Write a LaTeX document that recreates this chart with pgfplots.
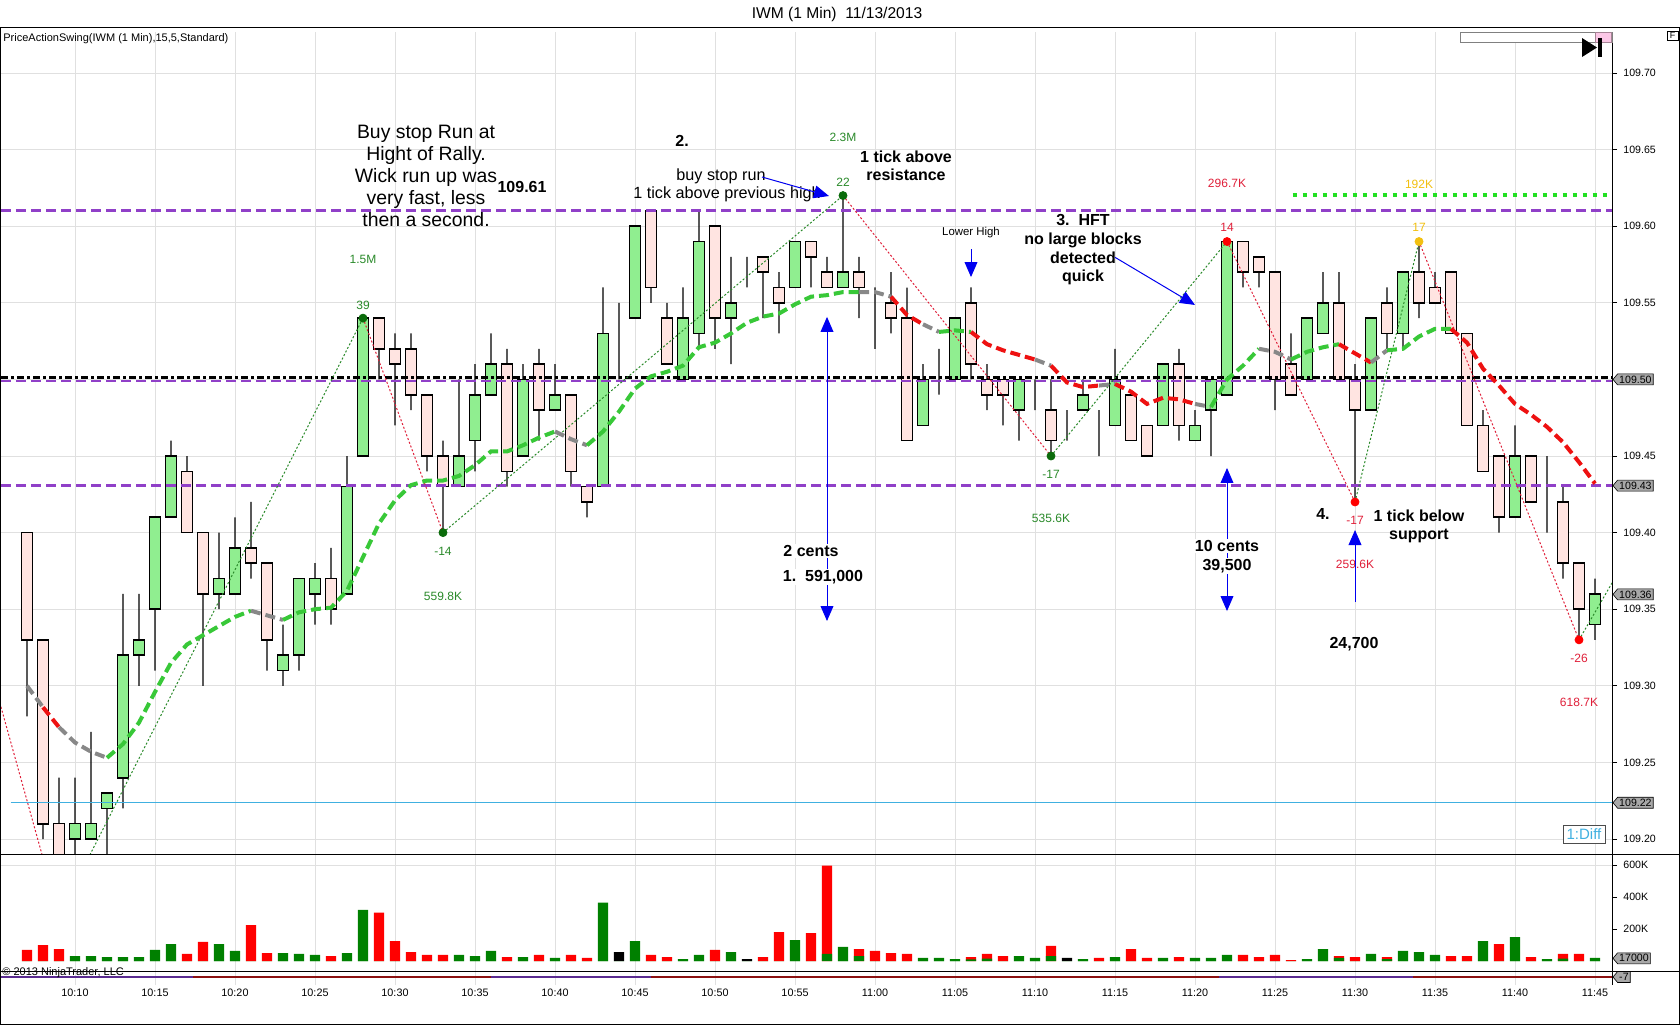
\documentclass[border=0pt]{standalone}
\usepackage{fontspec}
\setmainfont{Liberation Sans}
\usepackage{pgfplots}
\pgfplotsset{compat=1.18}
\usepackage{pgfplotstable}
\usetikzlibrary{shapes.symbols,arrows.meta}

\definecolor{cup}{HTML}{90EE90}
\definecolor{cdn}{HTML}{FFE4E1}
\definecolor{vg}{HTML}{008000}
\definecolor{vr}{HTML}{FF0000}
\definecolor{mag}{HTML}{38C838}
\definecolor{mar}{HTML}{EE1111}
\definecolor{may}{HTML}{888888}
\definecolor{lvl}{HTML}{9040C8}
\definecolor{gridc}{HTML}{E0E0E0}
\definecolor{swg}{HTML}{2A8A2A}
\definecolor{swr}{HTML}{E0203A}
\definecolor{dotg}{HTML}{0B6B0B}
\definecolor{gold}{HTML}{F2C010}
\definecolor{lblue}{HTML}{40B0E0}
\definecolor{brg}{HTML}{22E022}
\definecolor{tagg}{HTML}{A8A8A8}
\definecolor{arr}{HTML}{0000F0}
\definecolor{dred}{HTML}{8B1010}
\definecolor{dpur}{HTML}{5A2A90}

\newcommand\tk{\fontsize{5.3pt}{6pt}\selectfont}
\newcommand\sw{\fontsize{6pt}{7pt}\selectfont}
\newcommand\ann{\fontsize{8pt}{9.2pt}\selectfont\bfseries}
\newcommand\annr{\fontsize{8.1pt}{9.2pt}\selectfont}
\newcommand\bigann{\fontsize{9.7pt}{11pt}\selectfont}

\tikzset{tag/.style={signal, signal to=west, signal pointer angle=100, draw=black, line width=0.3pt, fill=tagg, font=\tk, inner xsep=0.8pt, inner ysep=0.4pt, minimum height=5.5pt, anchor=west, xshift=0.3pt},
  myarr/.style={arr, line width=0.5pt, >={Triangle[width=6.4pt,length=7.5pt]}}}

\pgfplotsset{
  pp/.style={scale only axis, width=805.5pt, height=411pt, at={(0.5pt,-427pt)}, anchor=south west,
    xmin=5.375, xmax=106.0625, ymin=19.021, ymax=72.676},
  px/.style={scale only axis, width=805.5pt, anchor=south west, xmin=5.375, xmax=106.0625},
  maline/.style={line width=2pt, dash pattern=on 5pt off 2.5pt},
  swline/.style={line width=0.5pt, dash pattern=on 1pt off 1pt},
}

\pgfplotstableread{
t o h l c
7 109.40 109.40 109.28 109.33
8 109.33 109.33 109.20 109.21
9 109.21 109.24 109.15 109.17
10 109.20 109.24 109.19 109.21
11 109.20 109.27 109.20 109.21
12 109.22 109.23 109.19 109.23
13 109.24 109.36 109.22 109.32
14 109.32 109.36 109.30 109.33
15 109.35 109.41 109.31 109.41
16 109.41 109.46 109.41 109.45
17 109.44 109.45 109.40 109.40
18 109.40 109.40 109.30 109.36
19 109.36 109.40 109.35 109.37
20 109.36 109.41 109.36 109.39
21 109.39 109.42 109.37 109.38
22 109.38 109.38 109.31 109.33
23 109.31 109.34 109.30 109.32
24 109.32 109.37 109.31 109.37
25 109.36 109.38 109.34 109.37
26 109.37 109.39 109.34 109.35
27 109.36 109.45 109.36 109.43
28 109.45 109.54 109.45 109.54
29 109.54 109.54 109.50 109.52
30 109.52 109.53 109.47 109.51
31 109.52 109.53 109.48 109.49
32 109.49 109.49 109.44 109.45
33 109.45 109.46 109.40 109.43
34 109.43 109.50 109.43 109.45
35 109.46 109.51 109.44 109.49
36 109.49 109.53 109.49 109.51
37 109.51 109.52 109.43 109.44
38 109.45 109.51 109.45 109.50
39 109.51 109.52 109.46 109.48
40 109.48 109.51 109.48 109.49
41 109.49 109.49 109.43 109.44
42 109.43 109.43 109.41 109.42
43 109.43 109.56 109.43 109.53
44 109.53 109.55 109.50 109.53
45 109.54 109.60 109.54 109.60
46 109.61 109.61 109.55 109.56
47 109.54 109.55 109.51 109.51
48 109.50 109.56 109.50 109.54
49 109.53 109.61 109.52 109.59
50 109.60 109.60 109.52 109.54
51 109.54 109.58 109.51 109.55
52 109.58 109.58 109.56 109.58
53 109.58 109.58 109.54 109.57
54 109.56 109.57 109.53 109.55
55 109.56 109.59 109.56 109.59
56 109.59 109.59 109.56 109.58
57 109.57 109.58 109.56 109.56
58 109.56 109.62 109.56 109.57
59 109.57 109.58 109.54 109.56
60 109.55 109.56 109.52 109.55
61 109.55 109.57 109.53 109.54
62 109.54 109.56 109.46 109.46
63 109.47 109.51 109.47 109.50
64 109.50 109.52 109.49 109.50
65 109.50 109.54 109.50 109.54
66 109.55 109.56 109.50 109.51
67 109.50 109.51 109.48 109.49
68 109.50 109.50 109.47 109.49
69 109.48 109.50 109.46 109.50
70 109.48 109.50 109.48 109.48
71 109.48 109.50 109.45 109.46
72 109.46 109.48 109.46 109.46
73 109.48 109.50 109.48 109.49
74 109.48 109.48 109.45 109.48
75 109.47 109.52 109.47 109.50
76 109.49 109.49 109.46 109.46
77 109.47 109.47 109.45 109.45
78 109.47 109.51 109.47 109.51
79 109.51 109.52 109.46 109.47
80 109.46 109.48 109.46 109.47
81 109.48 109.50 109.45 109.50
82 109.49 109.59 109.49 109.59
83 109.59 109.59 109.56 109.57
84 109.58 109.58 109.56 109.57
85 109.57 109.57 109.48 109.50
86 109.51 109.53 109.49 109.49
87 109.50 109.54 109.50 109.54
88 109.53 109.57 109.53 109.55
89 109.55 109.57 109.50 109.50
90 109.50 109.51 109.42 109.48
91 109.48 109.54 109.48 109.54
92 109.55 109.56 109.52 109.53
93 109.53 109.57 109.52 109.57
94 109.57 109.59 109.54 109.55
95 109.56 109.57 109.55 109.55
96 109.57 109.57 109.53 109.53
97 109.53 109.53 109.47 109.47
98 109.47 109.48 109.44 109.44
99 109.45 109.45 109.40 109.41
100 109.41 109.47 109.41 109.45
101 109.45 109.45 109.42 109.42
102 109.42 109.45 109.40 109.42
103 109.42 109.43 109.37 109.38
104 109.38 109.38 109.33 109.35
105 109.34 109.37 109.33 109.36
}\ohlc

\pgfplotstableread{
t p
7 109.300
8 109.286
9 109.273
10 109.263
11 109.257
12 109.253
13 109.262
14 109.276
15 109.296
16 109.315
17 109.327
18 109.333
19 109.339
20 109.345
21 109.349
22 109.346
23 109.343
24 109.348
25 109.350
26 109.351
27 109.362
28 109.384
29 109.406
30 109.421
31 109.431
32 109.434
33 109.434
34 109.437
35 109.444
36 109.453
37 109.453
38 109.457
39 109.462
40 109.466
41 109.461
42 109.457
43 109.466
44 109.479
45 109.494
46 109.502
47 109.505
48 109.509
49 109.521
50 109.524
51 109.530
52 109.537
53 109.541
54 109.543
55 109.549
56 109.554
57 109.555
58 109.557
59 109.557
60 109.557
61 109.554
62 109.542
63 109.536
64 109.531
65 109.532
66 109.531
67 109.523
68 109.519
69 109.516
70 109.513
71 109.509
72 109.498
73 109.495
74 109.496
75 109.497
76 109.492
77 109.484
78 109.488
79 109.487
80 109.484
81 109.482
82 109.500
83 109.509
84 109.520
85 109.518
86 109.513
87 109.518
88 109.521
89 109.523
90 109.517
91 109.511
92 109.519
93 109.520
94 109.528
95 109.533
96 109.533
97 109.524
98 109.507
99 109.496
100 109.484
101 109.477
102 109.469
103 109.459
104 109.446
105 109.432
}\ma

\pgfplotstableread{
t p k
4.5 109.319 0
9 109.150 0
28 109.540 1
33 109.400 1
58 109.620 1
71 109.450 1
82 109.590 2
90 109.420 2
94 109.590 3
104 109.330 2
106.5 109.375 0
}\swing

\pgfplotstableread{
t v c g
7 69 0 0
8 100 0 0
9 75 0 0
10 31 1 0
11 31 1 0
12 25 1 0
13 25 1 0
14 25 1 0
15 69 1 0
16 106 1 0
17 44 0 0
18 119 0 0
19 106 1 0
20 63 1 0
21 225 0 0
22 50 0 0
23 50 1 0
24 44 1 0
25 38 1 0
26 31 0 0
27 50 1 0
28 319 1 0
29 302 0 0
30 125 0 0
31 56 0 0
32 38 0 0
33 38 0 0
34 38 1 0
35 31 1 0
36 63 1 0
37 25 0 0
38 25 1 0
39 38 0 0
40 19 1 0
41 38 0 0
42 19 0 0
43 365 1 0
44 56 2 0
45 125 1 0
46 38 0 0
47 25 0 0
48 12 1 0
49 38 1 0
50 69 0 0
51 56 1 0
52 12 2 0
53 25 0 0
54 181 0 0
55 131 1 0
56 175 0 0
57 596 0 44
58 88 1 0
59 75 0 31
60 63 0 0
61 50 0 0
62 44 0 0
63 19 1 0
64 19 1 0
65 12 1 0
66 25 0 10
67 44 0 15
68 31 0 0
69 31 1 0
70 19 1 0
71 94 0 31
72 19 2 0
73 12 1 0
74 19 0 0
75 25 1 0
76 75 0 0
77 19 0 0
78 19 1 0
79 25 0 0
80 19 1 0
81 19 1 0
82 38 1 0
83 38 0 0
84 25 0 0
85 38 0 0
86 6 0 0
87 12 1 0
88 75 1 0
89 31 0 19
90 25 0 0
91 44 1 0
92 25 0 12
93 63 1 0
94 56 1 0
95 38 1 0
96 31 0 0
97 31 0 0
98 125 1 0
99 106 0 0
100 150 1 0
101 25 0 0
102 12 1 0
103 44 0 15
104 44 0 0
105 19 1 0
}\vol

\newcommand\maseg[3]{\addplot[#1,maline,restrict x to domain=#2:#3] table[x=t,y expr={(\thisrow{p}-109)*100}]{\ma};}
\newcommand\leg[3]{\addplot[#1,swline,restrict x to domain=#2:#3] table[x=t,y expr={(\thisrow{p}-109)*100}]{\swing};}

\begin{document}
\begin{tikzpicture}
\path[use as bounding box] (0pt,0pt) rectangle (840pt,-512.5pt);
\fill[white] (0pt,0pt) rectangle (840pt,-512.5pt);

% ---- grid + wicks
\begin{axis}[pp, ybar stacked, bar width=0.09,
  xtick={10,15,...,105}, ytick={20,25,...,70}, xticklabel=\empty, yticklabel=\empty,
  grid=major, grid style={gridc, line width=0.5pt}, major tick length=0pt,
  axis line style={draw=none}]
\addplot[draw=none, fill=none] table[x=t, y expr={(\thisrow{l}-109)*100}] {\ohlc};
\addplot[draw=none, fill=black] table[x=t, y expr={(\thisrow{h}-\thisrow{l})*100}] {\ohlc};
\end{axis}

% ---- candle bodies
\begin{axis}[pp, ybar stacked, bar width=0.7, hide axis]
\addplot[draw=none, fill=none] table[x=t, y expr={(min(\thisrow{o},\thisrow{c})-109)*100}] {\ohlc};
\addplot[draw=black, line width=0.8pt, fill=cup] table[x=t, y expr={max(\thisrow{c}-\thisrow{o},0)*100}] {\ohlc};
\addplot[draw=black, line width=0.8pt, fill=cdn] table[x=t, y expr={max(\thisrow{o}-\thisrow{c},0)*100}] {\ohlc};
\end{axis}

% ---- overlays
\begin{axis}[pp, clip mode=individual, axis line style={draw=none},
  xtick=\empty, ytick={20,25,...,70},
  yticklabels={109.20,109.25,109.30,109.35,109.40,109.45,,109.55,109.60,109.65,109.70},
  ytick pos=right, yticklabel pos=right, tick align=outside, major tick length=2.5pt,
  tick style={black, line width=0.4pt},
  yticklabel style={font=\tk, anchor=west, inner sep=0pt, xshift=3pt},
  /pgf/number format/assume math mode=true]
% level lines
\addplot[lblue, line width=0.5pt] coordinates {(5.98,22.37) (106.0625,22.37)};
\addplot[lvl, line width=1.4pt, dash pattern=on 5pt off 2.5pt] coordinates {(5.375,61.05) (106.0625,61.05)};
\addplot[lvl, line width=1.4pt, dash pattern=on 5pt off 2.5pt] coordinates {(5.375,49.9) (106.0625,49.9)};
\addplot[black, line width=1.5pt, dash pattern=on 3.5pt off 1.5pt on 1.5pt off 1.5pt] coordinates {(5.375,50.13) (106.0625,50.13)};
\addplot[lvl, line width=1.4pt, dash pattern=on 5pt off 2.5pt] coordinates {(5.375,43.05) (106.0625,43.05)};
\addplot[brg, line width=2pt, dash pattern=on 2pt off 3pt] coordinates {(86.1,62.04) (106.0625,62.04)};
% swing legs
\leg{swr}{4.5}{9}
\leg{swg}{9}{28}
\leg{swr}{28}{33}
\leg{swg}{33}{58}
\leg{swr}{58}{71}
\leg{swg}{71}{82}
\leg{swr}{82}{90}
\leg{swg}{90}{94}
\leg{swr}{94}{104}
\leg{swg}{104}{106.5}
% moving average
\maseg{may}{7}{8}
\maseg{mar}{8}{9}
\maseg{may}{9}{12}
\maseg{mag}{12}{21}
\maseg{may}{21}{23}
\maseg{mag}{23}{40}
\maseg{may}{40}{42}
\maseg{mag}{42}{59}
\maseg{may}{59}{61}
\maseg{mar}{61}{63}
\maseg{may}{63}{64}
\maseg{mag}{64}{66}
\maseg{mar}{66}{70}
\maseg{may}{70}{71}
\maseg{mar}{71}{74}
\maseg{may}{74}{75}
\maseg{mar}{75}{80}
\maseg{may}{80}{81}
\maseg{mag}{81}{84}
\maseg{may}{84}{86}
\maseg{mag}{86}{89}
\maseg{mar}{89}{91}
\maseg{may}{91}{92}
\maseg{mag}{92}{96}
\maseg{mar}{96}{105}
% swing dots
\addplot[only marks, mark=*, mark size=2pt, mark options={fill=dotg, draw=dotg}, restrict expr to domain={\thisrow{k}}{1:1}] table[x=t,y expr={(\thisrow{p}-109)*100}]{\swing};
\addplot[only marks, mark=*, mark size=2pt, mark options={fill=vr, draw=vr}, restrict expr to domain={\thisrow{k}}{2:2}] table[x=t,y expr={(\thisrow{p}-109)*100}]{\swing};
\addplot[only marks, mark=*, mark size=2pt, mark options={fill=gold, draw=gold}, restrict expr to domain={\thisrow{k}}{3:3}] table[x=t,y expr={(\thisrow{p}-109)*100}]{\swing};
% swing labels
\node[font=\sw, text=swg] at (axis cs:28,57.8) {1.5M};
\node[font=\sw, text=swg] at (axis cs:28,54.86) {39};
\node[font=\sw, text=swg] at (axis cs:33,38.8) {-14};
\node[font=\sw, text=swg] at (axis cs:33,35.86) {559.8K};
\node[font=\sw, text=swg] at (axis cs:58,65.8) {2.3M};
\node[font=\sw, text=swg] at (axis cs:58,62.89) {22};
\node[font=\sw, text=swg] at (axis cs:71,43.8) {-17};
\node[font=\sw, text=swg] at (axis cs:71,40.9) {535.6K};
\node[font=\sw, text=swr] at (axis cs:82,62.8) {296.7K};
\node[font=\sw, text=swr] at (axis cs:82,59.9) {14};
\node[font=\sw, text=swr] at (axis cs:90,40.8) {-17};
\node[font=\sw, text=swr] at (axis cs:90,37.9) {259.6K};
\node[font=\sw, text=gold] at (axis cs:94,62.75) {192K};
\node[font=\sw, text=gold] at (axis cs:94,59.9) {17};
\node[font=\sw, text=swr] at (axis cs:104,31.8) {-26};
\node[font=\sw, text=swr] at (axis cs:104,28.9) {618.7K};
% annotations
\node[font=\bigann, align=center] at (axis cs:31.94,63.28) {Buy stop Run at\\Hight of Rally.\\Wick run up was\\very fast, less\\then a second.};
\node[font=\ann] at (axis cs:37.94,62.56) {109.61};
\node[font=\ann] at (axis cs:47.94,65.56) {2.};
\node[font=\annr] at (axis cs:50.375,63.28) {buy stop run};
\node[font=\annr] at (axis cs:50.75,62.10) {1 tick above previous high};
\draw[myarr, ->] (axis cs:52.94,63.21) -- (axis cs:57.125,61.97);
\node[font=\ann, align=center] at (axis cs:61.94,63.93) {1 tick above\\resistance};
\node[font=\fontsize{5.7pt}{6.5pt}\selectfont] at (axis cs:66,59.6) {Lower High};
\draw[myarr, ->] (axis cs:66,58.51) -- (axis cs:66,56.68);
\node[font=\fontsize{8pt}{9.35pt}\selectfont\bfseries, align=center] at (axis cs:73,58.45) {3.\ \ HFT\\no large blocks\\detected\\quick};
\draw[myarr, ->] (axis cs:75,57.97) -- (axis cs:80,54.86);
\draw[myarr, <->] (axis cs:57,34.23) -- (axis cs:57,54.08);
\node[font=\ann, fill=white, inner sep=0.6pt] at (axis cs:56,38.8) {2 cents};
\node[font=\ann, fill=white, inner sep=0.6pt] at (axis cs:56.75,37.1) {1.\ \ 591,000};
\draw[myarr, <->] (axis cs:82,34.88) -- (axis cs:82,44.22);
\node[font=\ann, fill=white, inner sep=0.6pt] at (axis cs:82,39.13) {10 cents};
\node[font=\ann, fill=white, inner sep=0.6pt] at (axis cs:82,37.8) {39,500};
\draw[myarr, ->] (axis cs:90,35.47) -- (axis cs:90,40.17);
\node[font=\ann] at (axis cs:88,41.2) {4.};
\node[font=\fontsize{8pt}{9pt}\selectfont\bfseries, align=center] at (axis cs:94,40.43) {1 tick below\\support};
\node[font=\ann] at (axis cs:89.94,32.7) {24,700};
% price tags
\node[tag] at (axis cs:106.0625,50) {109.50};
\node[tag] at (axis cs:106.0625,43.07) {109.43};
\node[tag] at (axis cs:106.0625,35.97) {109.36};
\node[tag] at (axis cs:106.0625,22.37) {109.22};
\end{axis}

% ---- volume panel
\begin{axis}[px, height=58.5pt, at={(0.5pt,-485.5pt)}, ymin=-62.5, ymax=668.75,
  clip mode=individual, axis line style={draw=none},
  xtick={10,15,...,105}, xticklabel=\empty, xmajorgrids, grid style={gridc, line width=0.5pt},
  xtick style={draw=none},
  ytick={200,400,600}, yticklabels={200K,400K,600K},
  ytick pos=right, yticklabel pos=right, tick align=outside, major tick length=2.5pt,
  ytick style={black, line width=0.4pt},
  yticklabel style={font=\tk, anchor=west, inner sep=0pt, xshift=3pt}]
\draw[gridc, line width=0.5pt] (axis cs:5.375,600) -- (axis cs:106.0625,600);
\addplot[ybar, bar width=0.65, bar shift=0pt, fill=vr, draw=none, restrict expr to domain={\thisrow{c}}{0:0}] table[x=t,y=v]{\vol};
\addplot[ybar, bar width=0.65, bar shift=0pt, fill=vg, draw=none, restrict expr to domain={\thisrow{c}}{1:1}] table[x=t,y=v]{\vol};
\addplot[ybar, bar width=0.65, bar shift=0pt, fill=black, draw=none, restrict expr to domain={\thisrow{c}}{2:2}] table[x=t,y=v]{\vol};
\addplot[ybar, bar width=0.65, bar shift=0pt, fill=vg, draw=none] table[x=t,y=g]{\vol};
\node[tag] at (axis cs:106.0625,17) {17000};
\end{axis}

% ---- bottom indicator panel + time axis
\begin{axis}[px, height=7pt, at={(0.5pt,-492.5pt)}, ymin=0, ymax=14,
  clip mode=individual, axis line style={draw=none},
  xtick={10,15,...,105},
  xticklabels={10:10,10:15,10:20,10:25,10:30,10:35,10:40,10:45,10:50,10:55,11:00,11:05,11:10,11:15,11:20,11:25,11:30,11:35,11:40,11:45},
  xmajorgrids, grid style={gridc, line width=0.5pt}, xtick style={draw=none}, ytick=\empty,
  xticklabel style={font=\fontsize{5.4pt}{6pt}\selectfont, inner sep=0pt, anchor=north, yshift=-2pt}]
\addplot[dred, line width=0.7pt] coordinates {(5.375,8) (106.0625,8)};
\addplot[dpur, line width=0.7pt] coordinates {(5.375,8) (17.4,8)};
\addplot[dpur, line width=0.7pt] coordinates {(36,8) (46,8)};
\addplot[dpur, line width=0.7pt] coordinates {(81.5,8) (93.6,8)};
\node[tag] at (axis cs:106.0625,8) {-7};
\end{axis}

% ---- frame and decorations
\draw[black, line width=0.5pt] (0.25pt,-13.5pt) rectangle (839.75pt,-512pt);
\draw[black, line width=0.5pt] (0pt,-427pt) -- (840pt,-427pt);
\draw[black, line width=0.5pt] (0pt,-485.5pt) -- (840pt,-485.5pt);
\draw[black, line width=0.5pt] (806pt,-16pt) -- (806pt,-492.5pt);
\node[font=\fontsize{7.8pt}{9pt}\selectfont] at (418.5pt,-7pt) {IWM (1 Min)\ \ 11/13/2013};
\node[font=\fontsize{5.5pt}{6.5pt}\selectfont, anchor=west, inner sep=0pt] at (1.5pt,-19.5pt) {PriceActionSwing(IWM (1 Min),15,5,Standard)};
\node[font=\fontsize{5.5pt}{6.5pt}\selectfont, anchor=west, inner sep=0pt] at (1pt,-486.5pt) {© 2013 NinjaTrader, LLC};
% scrollbar and icons
\draw[gray, line width=0.4pt, fill=white] (730pt,-16pt) rectangle (806pt,-21pt);
\draw[gray!80!magenta, line width=0.4pt, fill=magenta!22] (797.5pt,-16pt) rectangle (805.5pt,-21pt);
\fill[black] (791pt,-19pt) -- (791pt,-28.5pt) -- (798.5pt,-23.75pt) -- cycle;
\fill[black] (799pt,-19pt) rectangle (801pt,-28.5pt);
\draw[black, line width=0.4pt] (833.5pt,-15.5pt) rectangle (839pt,-20.2pt);
\node[font=\fontsize{4.5pt}{5pt}\selectfont, inner sep=0pt] at (836.25pt,-17.85pt) {F};
% 1:Diff box
\draw[black!70, line width=0.4pt, fill=white] (781.5pt,-412.5pt) rectangle (802.5pt,-421.5pt);
\node[font=\fontsize{7.5pt}{8pt}\selectfont, text=lblue, inner sep=0pt] at (792pt,-417pt) {1:Diff};
\end{tikzpicture}
\end{document}
